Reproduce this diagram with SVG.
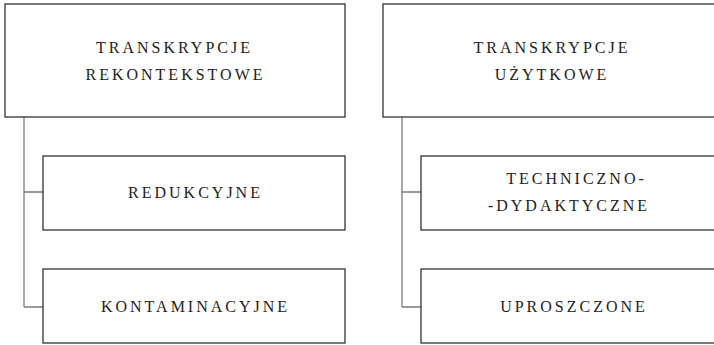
<svg xmlns="http://www.w3.org/2000/svg" width="714" height="345" viewBox="0 0 714 345">
  <style>
    .box { fill: #ffffff; stroke: #333333; stroke-width: 1.3; }
    .link { fill: none; stroke: #7a7a7a; stroke-width: 1.3; }
    text { font-family: 'Liberation Serif', serif; font-size: 16px; letter-spacing: 3px; fill: #222222; text-anchor: middle; }
  </style>
  <rect x="0" y="0" width="714" height="345" fill="#ffffff"/>

  <!-- tree connectors -->
  <g id="connectors">
    <path class="link" d="M24,117 V307 M24,192 H43 M24,307 H43"/>
    <path class="link" d="M402,117 V307 M402,192 H421 M402,307 H421"/>
  </g>

  <!-- left column -->
  <g id="rekontekstowe">
    <rect class="box" x="5" y="4" width="340" height="113"/>
    <text x="174.5" y="53">TRANSKRYPCJE</text>
    <text x="175.5" y="80">REKONTEKSTOWE</text>
  </g>
  <g id="redukcyjne">
    <rect class="box" x="43" y="156" width="302" height="74"/>
    <text x="195.5" y="198">REDUKCYJNE</text>
  </g>
  <g id="kontaminacyjne">
    <rect class="box" x="43" y="269" width="302" height="74"/>
    <text x="195.5" y="312">KONTAMINACYJNE</text>
  </g>

  <!-- right column -->
  <g id="uzytkowe">
    <rect class="box" x="383" y="4" width="340" height="113"/>
    <text x="552" y="53">TRANSKRYPCJE</text>
    <text x="552" y="80">UŻYTKOWE</text>
  </g>
  <g id="techniczno-dydaktyczne">
    <rect class="box" x="421" y="156" width="302" height="74"/>
    <text x="576.5" y="184">TECHNICZNO-</text>
    <text x="569" y="211">-DYDAKTYCZNE</text>
  </g>
  <g id="uproszczone">
    <rect class="box" x="421" y="269" width="302" height="74"/>
    <text x="574" y="312">UPROSZCZONE</text>
  </g>
</svg>
